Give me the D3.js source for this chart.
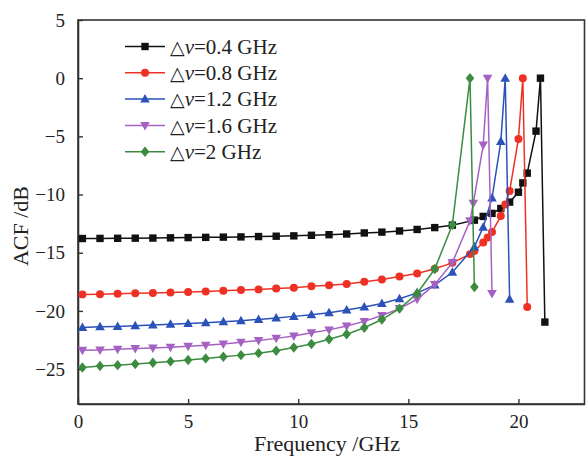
<!DOCTYPE html>
<html>
<head>
<meta charset="utf-8">
<script src="https://cdn.jsdelivr.net/npm/d3@7"></script>
<style>
  body { margin: 0; background: #fff; }
  svg { display: block; }
  text { font-family: 'Liberation Serif', 'DejaVu Serif', serif; fill: #222; }
</style>
</head>
<body>
<svg id="chart" width="586" height="457"></svg>
<script>
// Frequency (GHz) and ACF (dB), one pair of arrays per linewidth
const xFlat = [0.2, 1.0, 1.8, 2.6, 3.4, 4.2, 5.0, 5.8, 6.6, 7.4, 8.2, 9.0, 9.8, 10.6, 11.4, 12.2, 13.0, 13.8, 14.6, 15.4, 16.2, 17.0];

const x04 = xFlat.concat([18.0, 18.4, 18.8, 19.2, 19.6, 20.0, 20.2, 20.4, 20.8, 21.0, 21.2]);
const y04 = [-13.78, -13.77, -13.76, -13.75, -13.74, -13.72, -13.70, -13.68, -13.66, -13.64, -13.61, -13.58, -13.55, -13.50, -13.45, -13.39, -13.30, -13.23, -13.13, -13.00, -12.84, -12.63,
             -12.20, -11.88, -11.62, -11.20, -10.65, -9.80, -9.00, -8.16, -4.55, 0, -20.96];

const x08 = xFlat.concat([17.8, 18.0, 18.4, 18.6, 18.8, 19.2, 19.4, 19.6, 20.0, 20.2, 20.4]);
const y08 = [-18.58, -18.56, -18.53, -18.49, -18.46, -18.42, -18.38, -18.33, -18.27, -18.21, -18.15, -18.08, -18.00, -17.89, -17.79, -17.68, -17.50, -17.30, -17.05, -16.78, -16.38, -15.87,
             -15.12, -14.86, -14.12, -13.70, -13.22, -11.85, -10.85, -9.70, -5.22, 0, -19.67];

const x12 = xFlat.concat([18.0, 18.4, 18.8, 19.2, 19.4, 19.6]);
const y12 = [-21.42, -21.37, -21.33, -21.27, -21.21, -21.15, -21.09, -21.01, -20.93, -20.84, -20.73, -20.61, -20.47, -20.33, -20.16, -19.93, -19.67, -19.36, -18.96, -18.45, -17.78, -16.68,
             -14.50, -12.80, -10.30, -5.45, 0, -19.00];

const x16 = xFlat.concat([17.8, 17.95, 18.4, 18.6, 18.8]);
const y16 = [-23.38, -23.35, -23.30, -23.24, -23.18, -23.12, -23.04, -22.95, -22.84, -22.70, -22.55, -22.36, -22.15, -21.87, -21.63, -21.30, -20.90, -20.40, -19.80, -19.00, -17.72, -15.85,
             -12.26, -10.75, -5.75, 0, -18.50];

const x20 = xFlat.concat([17.8, 18.0]);
const y20 = [-24.86, -24.74, -24.66, -24.56, -24.45, -24.34, -24.22, -24.08, -23.94, -23.80, -23.63, -23.42, -23.14, -22.84, -22.44, -22.00, -21.45, -20.74, -19.80, -18.50, -16.40, -12.60,
             0, -17.95];

const seriesNames = ['0.4', '0.8', '1.2', '1.6', '2'];
const seriesColors = ['#111111', '#ee3124', '#2a52b8', '#a662c2', '#3b8c40'];
const seriesShapes = ['square', 'circle', 'up', 'down', 'diamond'];
const seriesX = [x04, x08, x12, x16, x20];
const seriesY = [y04, y08, y12, y16, y20];

const xTicks = [0, 5, 10, 15, 20];
const yTicks = [5, 0, -5, -10, -15, -20, -25];

const margin = { left: 78, right: 1.5, top: 20, bottom: 53 };
const W = 586, H = 457;

const svg = d3.select('#chart');
const x = d3.scaleLinear().domain([0, 23]).range([margin.left, W - margin.right]);
const y = d3.scaleLinear().domain([-28, 5]).range([H - margin.bottom, margin.top]);

// marker path per shape
function markerPath(shape) {
    if (shape == 'square') return 'M-3.7,-3.7H3.7V3.7H-3.7Z';
    if (shape == 'circle') return d3.symbol(d3.symbolCircle, 50)();
    if (shape == 'up') return 'M0,-5L4.8,3.5H-4.8Z';
    if (shape == 'down') return 'M0,5L4.8,-3.5H-4.8Z';
    return 'M0,-5.2L4.3,0L0,5.2L-4.3,0Z';
}

const data = seriesNames.map((n, i) => ({
    name: n,
    color: seriesColors[i],
    shape: seriesShapes[i],
    pts: seriesX[i].map((v, j) => [v, seriesY[i][j]])
}));

// frame
const axisColor = '#333';
svg.append('rect')
    .attr('x', x(0)).attr('y', y(5))
    .attr('width', x(23) - x(0)).attr('height', y(-28) - y(5))
    .attr('fill', 'none').attr('stroke', axisColor).attr('stroke-width', 1.6);

// axes with inward ticks
const xAxis = d3.axisBottom(x).tickValues(xTicks).tickSizeInner(-5).tickSizeOuter(0).tickPadding(9);
const gx = svg.append('g').attr('transform', `translate(0,${y(-28)})`).call(xAxis);
const yAxis = d3.axisLeft(y).tickValues(yTicks).tickSizeInner(-5).tickSizeOuter(0).tickPadding(13)
    .tickFormat(d => d < 0 ? '\u2212' + Math.abs(d) : d);
const gy = svg.append('g').attr('transform', `translate(${x(0)},0)`).call(yAxis);
[gx, gy].forEach(g => {
    g.select('.domain').attr('stroke', axisColor).attr('stroke-width', 1.6);
    g.selectAll('.tick line').attr('stroke', axisColor).attr('stroke-width', 1.4);
    g.selectAll('.tick text').attr('font-size', 19).attr('fill', '#222')
        .style('font-family', "'Liberation Serif', 'DejaVu Serif', serif");
});
gx.selectAll('.tick text').attr('dy', '0.8em');

// axis titles
svg.append('text')
    .attr('x', 327).attr('y', 451)
    .attr('text-anchor', 'middle').attr('font-size', 22)
    .text('Frequency /GHz');
svg.append('text')
    .attr('transform', `translate(28,${226}) rotate(-90)`)
    .attr('text-anchor', 'middle').attr('font-size', 22)
    .text('ACF /dB');

// series
const line = d3.line().x(d => x(d[0])).y(d => y(d[1]));
const sg = svg.append('g')
    .selectAll('g')
    .data(data)
    .join('g');
sg.append('path')
    .attr('d', d => line(d.pts))
    .attr('fill', 'none')
    .attr('stroke', d => d.color)
    .attr('stroke-width', 1.5);
sg.selectAll('path.mk')
    .data(d => d.pts.map(p => ({ p, d })))
    .join('path')
    .attr('class', 'mk')
    .attr('transform', e => `translate(${x(e.p[0])},${y(e.p[1])})`)
    .attr('d', e => markerPath(e.d.shape))
    .attr('fill', e => e.d.color);

// legend
const lg = svg.append('g')
    .selectAll('g')
    .data(data)
    .join('g')
    .attr('transform', (d, i) => `translate(125,${46.5 + i * 26.3})`);
lg.append('line')
    .attr('x1', 0).attr('x2', 40)
    .attr('stroke', d => d.color).attr('stroke-width', 1.5);
lg.append('path')
    .attr('transform', 'translate(20,0)')
    .attr('d', d => markerPath(d.shape))
    .attr('fill', d => d.color);
const lt = lg.append('text')
    .attr('x', 45).attr('dy', '0.35em')
    .attr('font-size', 21);
lt.append('tspan').text('\u25B3').style('font-family', "'DejaVu Sans', sans-serif").attr('font-size', 19);
lt.append('tspan').text('v').attr('font-style', 'italic');
lt.append('tspan').text(d => '=' + d.name + ' GHz');
</script>
</body>
</html>
